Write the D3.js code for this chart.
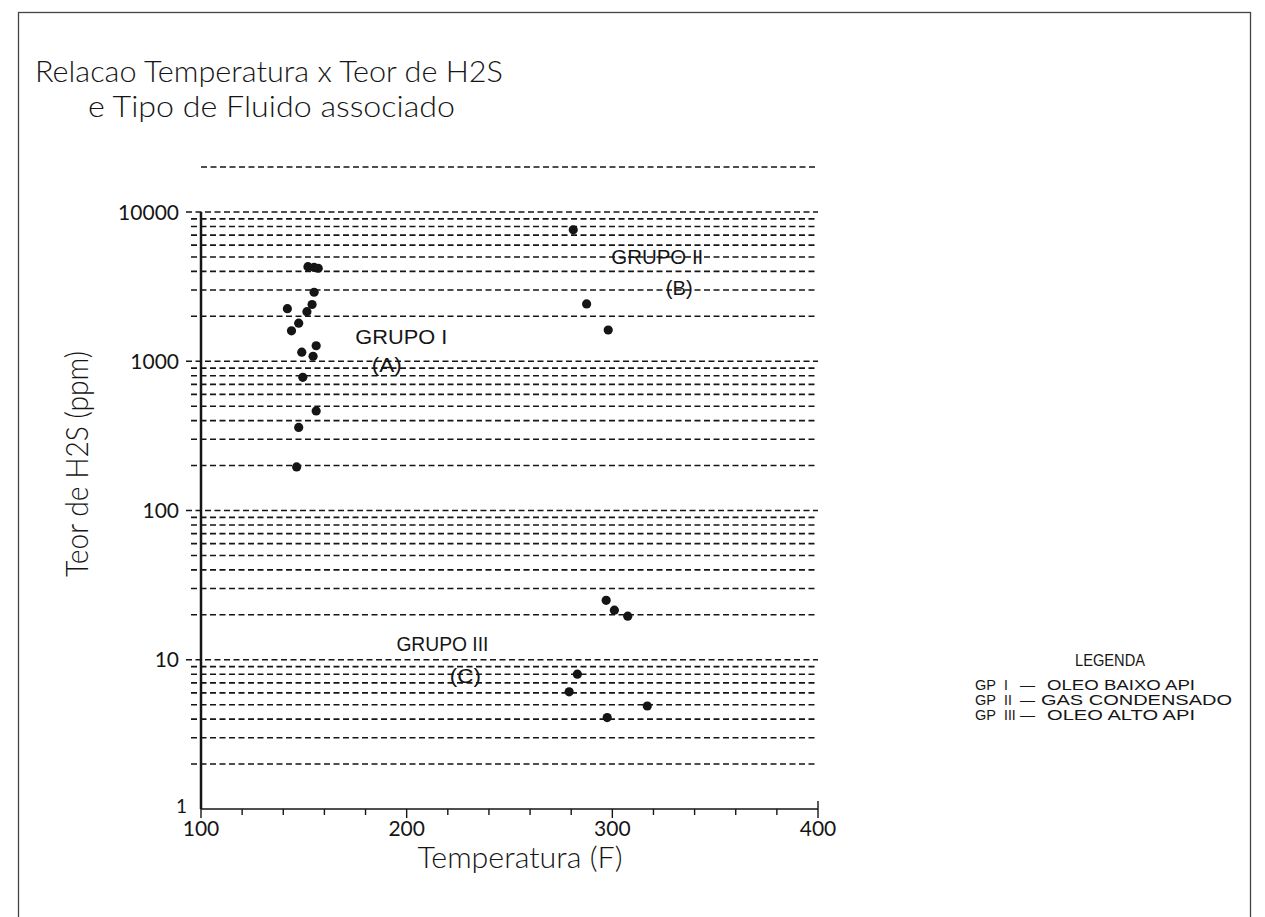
<!DOCTYPE html>
<html lang="pt">
<head>
<meta charset="UTF-8">
<title>Relacao Temperatura x Teor de H2S</title>
<script src="https://cdn.jsdelivr.net/npm/d3@7"></script>
<style>
  body { margin: 0; background: #fff; }
  svg text { fill: #151515; }
</style>
</head>
<body>
<script>
// [temperatura (F), teor de H2S (ppm)]
const grupo1 = [
  [152, 4300], [155, 4250], [157, 4200], [155, 2900], [142, 2250], [154, 2400],
  [151.5, 2150], [147.5, 1800], [144, 1600], [149, 1150], [156, 1270], [154.5, 1080],
  [149.5, 780], [156, 465], [147.5, 360], [146.5, 196]
]
const grupo2 = [[281, 7600], [287.5, 2420], [298, 1620]]
const grupo3 = [
  [297, 25], [301, 21.5], [307.5, 19.6], [283, 8], [279, 6.1], [317, 4.9], [297.5, 4.1]
]
const xTickLabels = [100, 200, 300, 400]
const yTickLabels = [1, 10, 100, 1000, 10000]
const legenda = [["I", "OLEO BAIXO API"], ["II", "GAS CONDENSADO"], ["III", "OLEO ALTO API"]]

const W = 1265, H = 917
const svg = d3.select("body").append("svg").attr("width", W).attr("height", H)

const x = d3.scaleLinear().domain([100, 400]).range([201, 818])
const y = d3.scaleLog().domain([1, 10000]).range([809, 212])

const ink = "#151515"
const titleFont = "Lato, 'DejaVu Sans', sans-serif"
const narrow = "'Liberation Sans Narrow', 'Liberation Sans', Arial, sans-serif"

// moldura
svg.append("rect").attr("x", 18.5).attr("y", 12.5).attr("width", 1232).attr("height", 940)
  .attr("fill", "none").attr("stroke", "#444").attr("stroke-width", 1.3)

// titulo
svg.append("text").attr("x", 35).attr("y", 82).attr("font-family", titleFont).attr("font-weight", 300)
  .attr("font-size", 29).attr("textLength", 468).attr("lengthAdjust", "spacingAndGlyphs")
  .text("Relacao Temperatura x Teor de H2S")
svg.append("text").attr("x", 88).attr("y", 117).attr("font-family", titleFont).attr("font-weight", 300)
  .attr("font-size", 29).attr("textLength", 367).attr("lengthAdjust", "spacingAndGlyphs")
  .text("e Tipo de Fluido associado")

// linhas de grade tracejadas (log)
const gridVals = y.copy().domain([1, 20000]).ticks().filter(v => v > 1)
svg.append("g").selectAll("line").data(gridVals).enter().append("line")
  .attr("x1", d => d >= 20000 ? x(100) : (Number.isInteger(Math.log10(d)) ? 186 : 191))
  .attr("x2", x(400))
  .attr("y1", d => y(d)).attr("y2", d => y(d))
  .attr("stroke", ink).attr("stroke-width", 1.6).attr("stroke-dasharray", "6 3.5")

// eixo y
svg.append("line").attr("x1", x(100)).attr("x2", x(100)).attr("y1", y(10000)).attr("y2", y(1))
  .attr("stroke", ink).attr("stroke-width", 2.5)
svg.append("g").selectAll("text").data(yTickLabels).enter().append("text")
  .attr("x", d => d === 1 ? 187 : 179).attr("y", d => y(d)).attr("dy", d => d === 1 ? "0.2em" : "0.36em")
  .attr("text-anchor", "end").attr("font-family", titleFont).attr("font-size", d => d === 1 ? 19 : 21)
  .text(d => d)

// eixo x
svg.append("line").attr("x1", x(100)).attr("x2", x(400)).attr("y1", y(1)).attr("y2", y(1))
  .attr("stroke", ink).attr("stroke-width", 1.6)
svg.append("g").selectAll("line").data(x.ticks(15)).enter().append("line")
  .attr("x1", d => x(d)).attr("x2", d => x(d))
  .attr("y1", y(1)).attr("y2", d => y(1) + (d % 100 === 0 ? 9 : 6))
  .attr("stroke", ink).attr("stroke-width", 1.4)
svg.append("line").attr("x1", x(400)).attr("x2", x(400)).attr("y1", y(1) - 8).attr("y2", y(1))
  .attr("stroke", ink).attr("stroke-width", 1.4)
svg.append("g").selectAll("text").data(xTickLabels).enter().append("text")
  .attr("x", d => x(d)).attr("y", 836).attr("text-anchor", "middle")
  .attr("font-family", titleFont).attr("font-size", 21).text(d => d)

// titulos dos eixos
svg.append("text").attr("x", 520).attr("y", 868).attr("text-anchor", "middle")
  .attr("font-family", titleFont).attr("font-weight", 300).attr("font-size", 30)
  .attr("textLength", 205).attr("lengthAdjust", "spacingAndGlyphs").text("Temperatura (F)")
svg.append("text").attr("transform", "translate(88,464) rotate(-90)").attr("text-anchor", "middle")
  .attr("font-family", titleFont).attr("font-weight", 300).attr("font-size", 31)
  .attr("textLength", 226).attr("lengthAdjust", "spacingAndGlyphs").text("Teor de H2S (ppm)")

// pontos
const pontos = grupo1.concat(grupo2, grupo3)
svg.append("g").selectAll("circle").data(pontos).enter().append("circle")
  .attr("cx", d => x(d[0])).attr("cy", d => y(d[1])).attr("r", 4.6)
  .attr("fill", ink)

// rotulos dos grupos
function rotulo(txt, t, v, len) {
  svg.append("text").attr("x", x(t)).attr("y", y(v)).attr("font-family", narrow)
    .attr("font-size", 21).attr("textLength", len).attr("lengthAdjust", "spacingAndGlyphs")
    .text(txt)
}
rotulo("GRUPO I", 175, 1300, 92)
rotulo("(A)", 183, 850, 30)
rotulo("GRUPO II", 299.5, 4500, 92)
rotulo("(B)", 326, 2800, 27)
rotulo("GRUPO III", 195, 11.5, 92)
rotulo("(C)", 221, 7.0, 31)

// legenda
const leg = svg.append("g").attr("font-family", narrow).attr("font-size", 14)
leg.append("text").attr("x", 1075).attr("y", 666).attr("font-size", 16)
  .attr("textLength", 70).attr("lengthAdjust", "spacingAndGlyphs").text("LEGENDA")
legenda.forEach((d, i) => {
  const by = 690 + i * 15
  leg.append("text").attr("x", 975).attr("y", by)
    .attr("textLength", 21).attr("lengthAdjust", "spacingAndGlyphs").text("GP")
  leg.append("text").attr("x", 1004).attr("y", by).text(d[0])
  leg.append("text").attr("x", 1020).attr("y", by)
    .attr("textLength", 15).attr("lengthAdjust", "spacingAndGlyphs").text("—")
  leg.append("text").attr("x", i === 1 ? 1041 : 1047).attr("y", by)
    .attr("textLength", i === 1 ? 191 : 148).attr("lengthAdjust", "spacingAndGlyphs").text(d[1])
})
</script>
</body>
</html>
